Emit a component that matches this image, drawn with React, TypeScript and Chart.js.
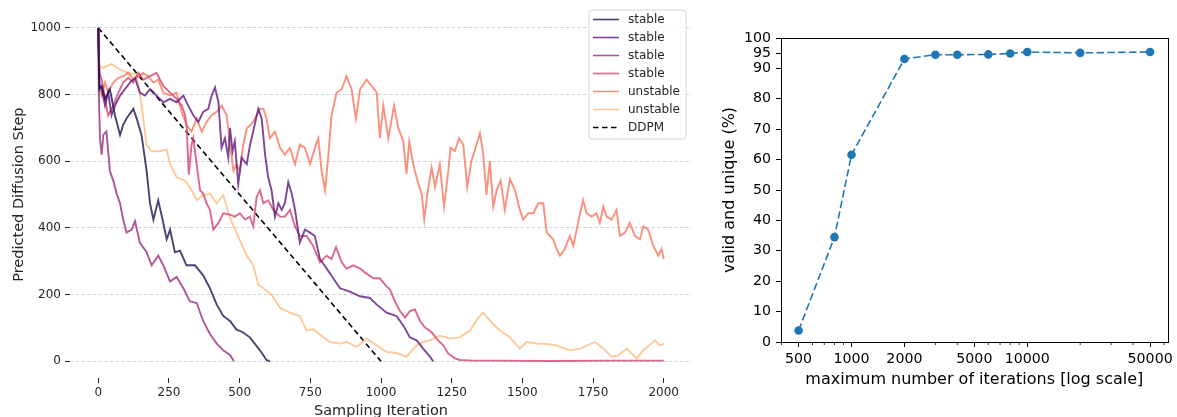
import React, { useEffect, useRef } from 'react';
import { Chart, registerables } from 'chart.js';

Chart.register(...registerables);

// ---------- Left panel data: [sampling iteration, predicted diffusion step] ----------
const STABLE_1: [number, number][] = [
  [0, 1000], [4, 816], [12, 826], [24, 787], [41, 816], [59, 738], [77, 679], [88, 709], [100, 728],
  [124, 757], [136, 728], [153, 679], [171, 571], [183, 474], [195, 425], [212, 483], [230, 415],
  [242, 366], [254, 395], [271, 327], [289, 332], [312, 288], [342, 288], [371, 258], [395, 219],
  [419, 170], [442, 136], [466, 121], [489, 95], [510, 88], [536, 72], [572, 33], [595, 4], [607, 0],
];

const STABLE_2: [number, number][] = [
  [0, 1000], [4, 826], [12, 816], [24, 767], [35, 806], [47, 738], [59, 767], [77, 797], [94, 816],
  [112, 836], [130, 850], [147, 806], [165, 797], [183, 816], [206, 797], [230, 777], [254, 787],
  [277, 777], [301, 797], [318, 767], [336, 738], [354, 718], [371, 748], [389, 757], [401, 797],
  [413, 821], [425, 777], [436, 640], [448, 669], [460, 611], [466, 700], [475, 630], [483, 660],
  [495, 532], [507, 611], [525, 591], [537, 650], [548, 689], [566, 757], [578, 728], [590, 620],
  [601, 552], [613, 513], [625, 434], [637, 474], [649, 454], [660, 474], [672, 537], [684, 503],
  [696, 454], [713, 356], [731, 395], [749, 386], [766, 376], [784, 307], [808, 278], [831, 249],
  [855, 219], [890, 209], [926, 195], [961, 190], [985, 170], [1020, 146], [1055, 136], [1079, 107],
  [1102, 72], [1126, 63], [1149, 38], [1173, 14], [1185, 0],
];

const STABLE_3: [number, number][] = [
  [0, 1000], [2, 800], [6, 669], [12, 620], [18, 679], [29, 689], [35, 630], [41, 571], [53, 542],
  [65, 503], [77, 474], [88, 425], [100, 386], [118, 395], [130, 420], [147, 356], [171, 327],
  [189, 288], [212, 317], [230, 288], [254, 239], [277, 253], [301, 219], [324, 180], [348, 175],
  [371, 121], [395, 82], [419, 53], [442, 33], [466, 19], [480, 0],
];

const STABLE_4: [number, number][] = [
  [0, 1000], [4, 865], [12, 845], [24, 787], [35, 738], [53, 767], [71, 806], [88, 836], [106, 850],
  [124, 836], [142, 865], [159, 845], [183, 855], [206, 865], [230, 826], [254, 806], [277, 787],
  [295, 767], [307, 738], [313, 700], [320, 560], [330, 650], [336, 669], [348, 591], [360, 513],
  [371, 503], [383, 474], [395, 454], [407, 395], [425, 415], [442, 444], [466, 440], [483, 434],
  [501, 444], [519, 425], [536, 434], [548, 405], [560, 493], [572, 513], [584, 474], [601, 483],
  [619, 454], [643, 434], [660, 434], [678, 454], [696, 405], [713, 376], [737, 376], [760, 346],
  [784, 297], [808, 317], [825, 307], [841, 342], [861, 297], [878, 278], [902, 288], [926, 278],
  [949, 263], [973, 249], [996, 249], [1020, 224], [1032, 215], [1049, 180], [1067, 151], [1085, 131],
  [1102, 151], [1120, 156], [1138, 121], [1155, 102], [1179, 87], [1202, 63], [1220, 48], [1238, 23],
  [1262, 9], [1279, 4], [1326, 2], [1400, 2], [1600, 1], [1800, 2], [2000, 2],
];

const UNSTABLE_1: [number, number][] = [
  [0, 1000], [4, 816], [12, 797], [24, 836], [35, 806], [53, 836], [71, 850], [88, 855], [106, 865],
  [124, 845], [142, 855], [159, 865], [177, 855], [195, 836], [212, 845], [230, 806], [254, 797],
  [277, 806], [295, 748], [313, 708], [330, 689], [348, 728], [366, 689], [383, 718], [401, 738],
  [419, 748], [436, 767], [454, 738], [466, 650], [478, 571], [489, 591], [501, 571], [513, 650],
  [525, 698], [537, 708], [548, 718], [560, 738], [572, 757], [584, 757], [595, 728], [607, 669],
  [625, 689], [643, 640], [660, 620], [678, 640], [696, 591], [713, 650], [731, 640], [749, 591],
  [766, 640], [778, 669], [790, 571], [802, 513], [814, 620], [825, 738], [843, 806], [861, 816],
  [878, 855], [896, 816], [911, 728], [926, 816], [949, 845], [967, 826], [985, 806], [996, 669],
  [1008, 767], [1026, 669], [1046, 767], [1061, 700], [1079, 659], [1090, 562], [1100, 659],
  [1114, 591], [1132, 532], [1144, 503], [1153, 425], [1164, 503], [1179, 581], [1191, 523],
  [1208, 591], [1223, 464], [1238, 571], [1246, 640], [1261, 630], [1276, 669], [1291, 650],
  [1305, 523], [1320, 601], [1338, 650], [1350, 684], [1362, 620], [1373, 499], [1385, 601],
  [1397, 464], [1409, 513], [1423, 542], [1438, 454], [1456, 547], [1474, 513], [1491, 454],
  [1503, 425], [1521, 444], [1539, 444], [1556, 474], [1574, 474], [1586, 386], [1598, 376],
  [1609, 366], [1621, 337], [1633, 317], [1650, 337], [1668, 376], [1680, 346], [1692, 395],
  [1704, 444], [1715, 483], [1727, 444], [1745, 434], [1762, 444], [1774, 415], [1786, 464],
  [1798, 434], [1816, 425], [1833, 454], [1845, 376], [1863, 386], [1880, 415], [1898, 376],
  [1916, 366], [1928, 405], [1945, 395], [1963, 346], [1981, 317], [1992, 337], [2000, 307],
];

const UNSTABLE_2: [number, number][] = [
  [0, 1000], [3, 860], [6, 885], [18, 880], [47, 892], [77, 875], [106, 865], [136, 860], [153, 767],
  [171, 650], [189, 630], [218, 630], [242, 635], [254, 591], [277, 552], [307, 542], [330, 513],
  [348, 483], [371, 498], [395, 503], [419, 474], [442, 498], [466, 430], [489, 385], [525, 317],
  [548, 288], [566, 229], [584, 219], [613, 200], [643, 160], [678, 146], [713, 136], [737, 92],
  [760, 97], [796, 72], [820, 58], [855, 53], [878, 58], [914, 43], [949, 68], [985, 48], [1020, 28],
  [1055, 25], [1090, 14], [1126, 48], [1149, 58], [1173, 63], [1208, 77], [1244, 68], [1279, 72],
  [1315, 92], [1344, 131], [1362, 146], [1385, 122], [1421, 92], [1456, 72], [1491, 38], [1515, 58],
  [1550, 53], [1586, 52], [1621, 48], [1633, 43], [1668, 33], [1704, 38], [1757, 58], [1786, 38],
  [1816, 14], [1839, 18], [1869, 38], [1904, 9], [1928, 33], [1969, 63], [1987, 48], [2000, 53],
];

const DDPM: [number, number][] = [[0, 1000], [1000, 0]];

const LEFT_X_TICKS = [0, 250, 500, 750, 1000, 1250, 1500, 1750, 2000];
const LEFT_Y_TICKS = [0, 200, 400, 600, 800, 1000];

// ---------- Right panel data ----------
const MAX_ITERATIONS = [500, 800, 1000, 2000, 3000, 4000, 6000, 8000, 10000, 20000, 50000];
const VALID_UNIQUE = [3.8, 34.5, 61.6, 93.1, 94.5, 94.5, 94.6, 94.9, 95.4, 95.1, 95.4];
const RIGHT_X_TICKS = [500, 1000, 2000, 5000, 10000, 50000];
const RIGHT_X_MINOR = [400, 600, 700, 800, 900, 3000, 4000, 6000, 7000, 8000, 9000, 20000, 30000, 40000, 60000];
const RIGHT_Y_TICKS = [0, 10, 20, 30, 40, 50, 60, 70, 80, 90, 95, 100];

const FONT = "'DejaVu Sans', 'Liberation Sans', sans-serif";
const TXT = '#262626';

const SERIES = [
  { label: 'stable', data: STABLE_1, color: 'rgba(34,17,80,0.8)' },
  { label: 'stable', data: STABLE_2, color: 'rgba(95,24,127,0.8)' },
  { label: 'stable', data: STABLE_3, color: 'rgba(152,45,128,0.8)' },
  { label: 'stable', data: STABLE_4, color: 'rgba(211,67,110,0.8)' },
  { label: 'unstable', data: UNSTABLE_1, color: 'rgba(248,118,92,0.8)' },
  { label: 'unstable', data: UNSTABLE_2, color: 'rgba(254,187,129,0.8)' },
];

const legendPlugin = {
  id: 'boxLegend',
  afterDatasetsDraw(chart: any) {
    const ctx = chart.ctx;
    const x0 = 589, y0 = 10, w = 97, h = 129;
    ctx.save();
    ctx.beginPath();
    const r = 3;
    ctx.moveTo(x0 + r, y0);
    ctx.arcTo(x0 + w, y0, x0 + w, y0 + h, r);
    ctx.arcTo(x0 + w, y0 + h, x0, y0 + h, r);
    ctx.arcTo(x0, y0 + h, x0, y0, r);
    ctx.arcTo(x0, y0, x0 + w, y0, r);
    ctx.closePath();
    ctx.fillStyle = 'rgba(255,255,255,0.85)';
    ctx.fill();
    ctx.strokeStyle = '#d6d6d6';
    ctx.lineWidth = 1;
    ctx.stroke();
    ctx.font = `12px ${FONT}`;
    ctx.textBaseline = 'middle';
    ctx.textAlign = 'left';
    chart.data.datasets.forEach((ds: any, i: number) => {
      const y = 19.5 + i * 18;
      ctx.beginPath();
      ctx.setLineDash(ds.borderDash || []);
      ctx.strokeStyle = ds.borderColor;
      ctx.lineWidth = 1.6;
      ctx.moveTo(593, y);
      ctx.lineTo(619, y);
      ctx.stroke();
      ctx.setLineDash([]);
      ctx.fillStyle = TXT;
      ctx.fillText(ds.label, 628, y + 0.5);
    });
    ctx.restore();
  },
};

const framePlugin = {
  id: 'frameAndMinor',
  afterDraw(chart: any) {
    const { ctx, chartArea } = chart;
    const xs = chart.scales.x;
    ctx.save();
    ctx.strokeStyle = '#000';
    ctx.lineWidth = 1;
    ctx.strokeRect(
      Math.round(chartArea.left) + 0.5,
      Math.round(chartArea.top) + 0.5,
      Math.round(chartArea.right - chartArea.left),
      Math.round(chartArea.bottom - chartArea.top)
    );
    ctx.lineWidth = 0.8;
    RIGHT_X_MINOR.forEach((v) => {
      const px = xs.getPixelForValue(v);
      if (px < chartArea.left || px > chartArea.right) return;
      ctx.beginPath();
      ctx.moveTo(px, chartArea.bottom);
      ctx.lineTo(px, chartArea.bottom + 3);
      ctx.stroke();
    });
    ctx.restore();
  },
};

export default function App() {
  const leftRef = useRef<HTMLCanvasElement | null>(null);
  const rightRef = useRef<HTMLCanvasElement | null>(null);

  useEffect(() => {
    const left = new Chart(leftRef.current as HTMLCanvasElement, {
      type: 'line',
      data: {
        datasets: [
          ...SERIES.map((s) => ({
            label: s.label,
            data: s.data.map(([x, y]) => ({ x, y })),
            borderColor: s.color,
            borderWidth: 1.9,
            pointRadius: 0,
            tension: 0,
            fill: false,
          })),
          {
            label: 'DDPM',
            data: DDPM.map(([x, y]) => ({ x, y })),
            borderColor: '#000000',
            borderWidth: 1.6,
            borderDash: [5.5, 3.5],
            pointRadius: 0,
            tension: 0,
            fill: false,
          },
        ],
      },
      options: {
        animation: false,
        responsive: false,
        maintainAspectRatio: false,
        events: [],
        layout: { padding: { left: 0, right: 8, top: 4, bottom: 0 } },
        plugins: { legend: { display: false }, tooltip: { enabled: false } },
        scales: {
          x: {
            type: 'linear',
            min: -100,
            max: 2100,
            bounds: 'data',
            afterBuildTicks: (s: any) => {
              s.ticks = LEFT_X_TICKS.map((v) => ({ value: v }));
            },
            afterFit: (s: any) => {
              s.height = 39;
            },
            grid: { display: true, drawOnChartArea: false, drawTicks: true, tickLength: 5, tickColor: TXT, tickWidth: 1 },
            border: { display: false },
            ticks: {
              autoSkip: false,
              maxRotation: 0,
              padding: 3,
              color: TXT,
              font: { family: FONT, size: 12 },
              callback: (v: any) => String(v),
            },
            title: {
              display: true,
              text: 'Sampling Iteration',
              color: TXT,
              font: { family: FONT, size: 14.5 },
              padding: { top: 0, bottom: -3 },
            },
          },
          y: {
            type: 'linear',
            min: -50,
            max: 1050,
            bounds: 'data',
            afterBuildTicks: (s: any) => {
              s.ticks = LEFT_Y_TICKS.map((v) => ({ value: v }));
            },
            afterFit: (s: any) => {
              s.width = 70;
            },
            grid: {
              display: true,
              drawOnChartArea: true,
              drawTicks: true,
              color: '#d4d4d4',
              lineWidth: 1,
              tickLength: 5,
              tickColor: TXT,
              tickWidth: 1,
            },
            border: { display: false, dash: [3.5, 2.2] },
            ticks: {
              autoSkip: false,
              padding: 4,
              color: TXT,
              font: { family: FONT, size: 12 },
              callback: (v: any) => String(v),
            },
            title: {
              display: true,
              text: 'Predicted Diffusion Step',
              color: TXT,
              font: { family: FONT, size: 14.5 },
              padding: { top: 11, bottom: 0 },
            },
          },
        },
      },
      plugins: [legendPlugin],
    } as any);

    const right = new Chart(rightRef.current as HTMLCanvasElement, {
      type: 'line',
      data: {
        datasets: [
          {
            label: 'valid and unique',
            data: MAX_ITERATIONS.map((x, i) => ({ x, y: VALID_UNIQUE[i] })),
            borderColor: '#1f77b4',
            backgroundColor: '#1f77b4',
            borderWidth: 1.6,
            borderDash: [7.5, 3.3],
            pointRadius: 4.3,
            pointBackgroundColor: '#1f77b4',
            pointBorderWidth: 0,
            tension: 0,
            fill: false,
          },
        ],
      },
      options: {
        animation: false,
        responsive: false,
        maintainAspectRatio: false,
        events: [],
        layout: { padding: { left: 0, right: 7, top: 38, bottom: 0 } },
        plugins: { legend: { display: false }, tooltip: { enabled: false } },
        scales: {
          x: {
            type: 'logarithmic',
            min: 397.1,
            max: 62946,
            bounds: 'data',
            afterBuildTicks: (s: any) => {
              s.ticks = RIGHT_X_TICKS.map((v) => ({ value: v }));
            },
            afterFit: (s: any) => {
              s.height = 75;
            },
            grid: { display: true, drawOnChartArea: false, drawTicks: true, tickLength: 5, tickColor: '#000', tickWidth: 1 },
            border: { display: true, color: '#000', width: 1 },
            ticks: {
              autoSkip: false,
              maxRotation: 0,
              padding: 4,
              color: '#000',
              font: { family: FONT, size: 14.2 },
              callback: (v: any) => String(v),
            },
            title: {
              display: true,
              text: 'maximum number of iterations [log scale]',
              color: '#000',
              font: { family: FONT, size: 16 },
              padding: { top: 0, bottom: 28 },
            },
          },
          y: {
            type: 'linear',
            min: 0,
            max: 100,
            bounds: 'data',
            afterBuildTicks: (s: any) => {
              s.ticks = RIGHT_Y_TICKS.map((v) => ({ value: v }));
            },
            afterFit: (s: any) => {
              s.width = 81;
            },
            grid: { display: true, drawOnChartArea: false, drawTicks: true, tickLength: 5, tickColor: '#000', tickWidth: 1 },
            border: { display: true, color: '#000', width: 1 },
            ticks: {
              autoSkip: false,
              padding: 5,
              color: '#000',
              font: { family: FONT, size: 14.2 },
              callback: (v: any) => String(v),
            },
            title: {
              display: true,
              text: 'valid and unique (%)',
              color: '#000',
              font: { family: FONT, size: 16 },
              padding: { top: 20, bottom: 0 },
            },
          },
        },
      },
      plugins: [framePlugin],
    } as any);

    return () => {
      left.destroy();
      right.destroy();
    };
  }, []);

  return (
    <div style={{ position: 'absolute', left: 0, top: 0, width: 1177, height: 417, background: '#fff' }}>
      <canvas
        ref={leftRef}
        width={700}
        height={417}
        style={{ position: 'absolute', left: 0, top: 0, width: 700, height: 417 }}
      />
      <canvas
        ref={rightRef}
        width={477}
        height={417}
        style={{ position: 'absolute', left: 700, top: 0, width: 477, height: 417 }}
      />
    </div>
  );
}
